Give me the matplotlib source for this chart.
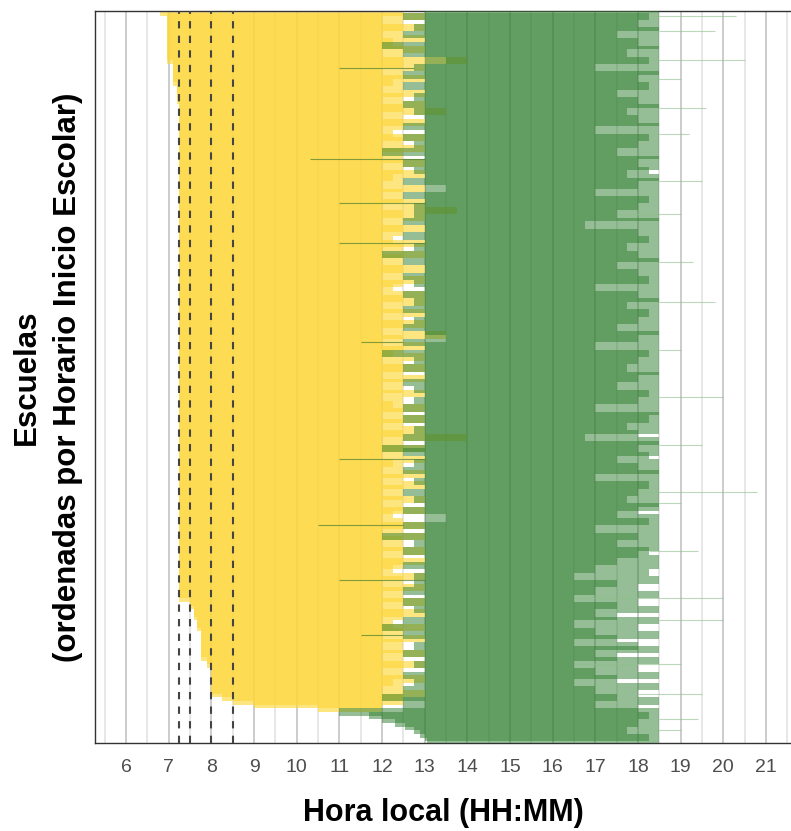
import matplotlib.pyplot as plt
import numpy as np

plt.rcParams.update({
    'font.family': ['Liberation Sans', 'DejaVu Sans'],
    'figure.dpi': 100,
})

# ==========================================
# DATOS (filas de arriba a abajo)
# ==========================================
# inicio de la jornada de mañana (codificado por tramos)
inicio_valores = [6.8, 6.95, 7.1, 7.2, 7.25, 7.5, 7.6, 7.67, 7.75, 7.9, 8.0, 8.25, 8.5, 9.0, 10.5]
inicio_conteos = [1, 13, 6, 5, 136, 2, 3, 3, 8, 2, 8, 1, 1, 1, 1]

fin_manana = [
    12.5, 13.0, 12.0, 12.5, 13.0, 12.5, 12.0, 13.0, 12.25, 12.5,
    13.0, 12.0, 12.5, 14.0, 12.5, 13.0, 12.0, 12.5, 13.0, 12.25,
    12.5, 12.0, 13.0, 12.5, 12.0, 13.0, 12.5, 13.5, 12.0, 12.5,
    13.0, 12.5, 12.0, 12.25, 13.0, 12.5, 12.0, 13.0, 12.5, 12.0,
    12.5, 13.0, 12.0, 12.5, 13.0, 12.25, 12.5, 12.0, 13.0, 12.5,
    12.0, 12.5, 13.0, 12.0, 13.75, 12.5, 13.0, 12.0, 12.5, 13.0,
    12.5, 12.0, 12.25, 13.0, 12.5, 12.0, 13.0, 12.5, 12.0, 12.5,
    13.0, 12.5, 12.0, 13.0, 12.5, 12.25, 12.0, 13.0, 12.5, 13.0,
    12.0, 12.5, 13.0, 12.0, 12.5, 13.0, 12.5, 12.0, 13.5, 12.5,
    12.0, 13.0, 12.5, 12.25, 13.0, 12.0, 12.5, 13.0, 12.5, 12.0,
    13.0, 12.5, 12.0, 12.5, 13.0, 12.0, 12.5, 12.25, 13.0, 12.5,
    12.0, 13.0, 12.5, 12.0, 13.0, 12.5, 14.0, 12.0, 12.5, 13.0,
    12.5, 12.0, 13.0, 12.25, 12.5, 12.0, 13.0, 12.5, 12.0, 13.0,
    12.5, 12.0, 12.5, 13.0, 12.0, 12.5, 13.0, 12.25, 12.0, 12.5,
    13.0, 12.5, 12.0, 13.0, 12.5, 12.0, 12.5, 13.0, 12.0, 12.5,
    13.0, 12.5, 12.25, 12.0, 13.0, 12.5, 12.0, 13.0, 12.5, 12.0,
    12.5, 13.0, 12.0, 12.5, 13.0, 12.5, 12.0, 12.25, 13.0, 12.5,
    12.0, 13.0, 12.5, 12.0, 12.5, 13.0, 12.0, 12.5, 13.0, 12.5,
    12.0, 12.5, 13.0, 12.25, 12.5, 12.0, 13.0, 12.5, 12.5, 12.0,
    12.0,
]

inicio_tarde = [
    13.0, 12.5, 13.0, 13.0, 12.75, 13.0, 12.5, 13.0, 13.0, 12.0,
    13.0, 12.5, 13.0, 13.5, 13.0, 12.75, 13.0, 12.5, 13.0, 13.0,
    12.5, 13.0, 13.0, 12.75, 13.0, 12.5, 13.0, 12.75, 13.0, 13.0,
    13.0, 12.5, 13.0, 13.0, 12.5, 13.0, 12.75, 13.0, 12.0, 13.0,
    13.0, 12.5, 13.0, 12.75, 13.0, 13.0, 12.5, 13.0, 13.5, 13.0,
    12.5, 13.0, 13.0, 12.75, 13.0, 12.75, 13.0, 12.5, 13.0, 13.0,
    13.0, 12.5, 13.0, 13.0, 12.75, 13.0, 12.0, 13.0, 12.5, 13.0,
    13.0, 13.0, 12.5, 13.0, 12.75, 13.0, 13.0, 12.5, 13.0, 12.75,
    13.0, 12.5, 13.0, 13.0, 12.75, 13.0, 12.5, 13.0, 13.0, 13.5,
    12.5, 13.0, 13.0, 12.0, 13.0, 12.75, 13.0, 12.5, 13.0, 13.0,
    13.0, 12.5, 13.0, 12.75, 13.0, 13.0, 12.75, 13.0, 12.5, 13.0,
    13.0, 12.5, 13.0, 13.0, 12.75, 13.0, 12.5, 13.0, 13.0, 12.0,
    12.5, 13.0, 13.0, 12.75, 13.0, 12.5, 13.0, 13.0, 12.75, 13.0,
    13.0, 12.5, 13.0, 12.75, 13.0, 13.0, 12.5, 13.0, 13.5, 13.0,
    12.5, 13.0, 13.0, 12.0, 13.0, 12.75, 13.0, 12.5, 13.0, 13.0,
    13.0, 12.5, 13.0, 13.0, 12.75, 13.0, 12.75, 13.0, 12.5, 13.0,
    13.0, 12.5, 13.0, 12.75, 13.0, 13.0, 12.5, 13.0, 12.0, 13.0,
    12.5, 13.0, 13.0, 12.75, 13.0, 12.5, 13.0, 13.0, 12.75, 13.0,
    13.0, 12.5, 13.0, 12.75, 13.0, 12.5, 13.0, 12.0, 12.5, 13.0,
    12.5, 11.0, 11.7, 12.0, 12.3, 12.55, 12.75, 12.9, 13.0, 13.05,
]

fin_tarde = [
    18.5, 18.25, 18.5, 18.0, 18.5, 18.5, 17.5, 18.5, 18.0, 18.5,
    18.5, 17.75, 18.5, 18.25, 18.5, 17.0, 18.5, 18.5, 18.0, 18.5,
    18.25, 18.5, 17.5, 18.5, 18.0, 18.5, 18.5, 17.75, 18.5, 18.0,
    18.5, 18.5, 17.0, 18.5, 18.25, 18.5, 18.0, 18.5, 17.5, 18.5,
    18.5, 18.0, 18.5, 18.25, 17.75, 18.5, 18.5, 18.0, 18.5, 17.0,
    18.5, 18.25, 18.5, 18.0, 18.5, 17.5, 18.5, 18.5, 16.75, 18.5,
    18.0, 18.5, 18.25, 18.5, 17.75, 18.5, 18.0, 18.5, 18.5, 17.5,
    18.5, 18.0, 18.5, 18.25, 18.5, 17.0, 18.5, 18.0, 18.5, 18.5,
    17.75, 18.5, 18.25, 18.5, 18.0, 18.5, 17.5, 18.5, 18.5, 18.0,
    18.5, 17.0, 18.5, 18.25, 18.5, 18.0, 18.5, 17.75, 18.5, 18.5,
    18.0, 18.5, 17.5, 18.5, 18.25, 18.5, 18.0, 18.5, 17.0, 18.5,
    18.5, 18.25, 18.5, 17.75, 18.5, 18.0, 16.75, 18.5, 18.5, 18.0,
    18.5, 18.25, 17.5, 18.5, 18.0, 18.5, 18.5, 17.0, 18.5, 18.25,
    18.5, 18.0, 18.5, 17.75, 18.5, 18.5, 18.0, 17.5, 18.5, 18.25,
    18.5, 17.0, 18.5, 18.0, 18.5, 17.5, 18.5, 18.25, 18.0, 18.5,
    17.5, 18.5, 17.0, 18.25, 16.5, 18.5, 17.5, 18.0, 17.0, 18.5,
    16.5, 18.0, 17.5, 18.5, 17.0, 17.5, 18.5, 16.5, 18.0, 17.0,
    18.5, 17.5, 16.5, 18.0, 18.5, 17.0, 17.5, 18.5, 16.5, 18.0,
    17.0, 18.5, 17.5, 16.5, 18.5, 17.0, 18.0, 17.5, 18.5, 17.0,
    18.0, 18.5, 18.25, 18.5, 18.0, 18.5, 17.75, 18.5, 18.25, 18.5,
]

# tardes que se alargan (líneas finas) y tardes que empiezan antes
filas_extension = [1, 5, 13, 18, 26, 33, 46, 55, 68, 79, 92, 105, 118, 131, 134, 147, 160, 166, 178, 186, 193, 196]
fin_extension = [20.3, 19.8, 20.5, 19.0, 19.6, 19.2, 19.5, 19.0, 19.3, 19.8, 19.0, 20.0,
                 19.5, 20.8, 19.0, 19.4, 20.0, 20.0, 19.0, 19.5, 19.4, 19.0]
filas_temprana = [15, 40, 52, 63, 90, 122, 140, 155, 170]
inicio_temprana = [11.0, 10.3, 11.0, 11.0, 11.5, 11.0, 10.5, 11.0, 11.5]

lineas_ref = [7.25, 7.5, 8.0, 8.5]
horas = list(range(6, 22))

# ==========================================
# GRÁFICO
# ==========================================
inicio_manana = np.repeat(inicio_valores, inicio_conteos)
fin_manana = np.array(fin_manana)
inicio_tarde = np.array(inicio_tarde)
fin_tarde = np.array(fin_tarde)
filas_m = np.arange(len(inicio_manana))
filas_t = np.arange(len(inicio_tarde))

fig = plt.figure(figsize=(7.91, 8.31))
ax = fig.add_axes([95 / 791, 88 / 831, 1 - 95 / 791, 732 / 831])

amarillo = '#FDD73C'
verde = '#2F7F2F'

# cada fila se solapa con la siguiente -> se mezclan como en el original
ax.barh(filas_m, fin_manana - inicio_manana, left=inicio_manana, height=2.0,
        color=amarillo, alpha=0.65, linewidth=0, zorder=2)
ax.barh(filas_t, fin_tarde - inicio_tarde, left=inicio_tarde, height=2.0,
        color=verde, alpha=0.5, linewidth=0, zorder=3)

# extensiones finas
ax.hlines(filas_extension, fin_tarde[filas_extension], fin_extension,
          color='#8fbf8f', linewidth=0.8, alpha=0.6, zorder=3)
ax.hlines(filas_temprana, inicio_temprana, inicio_tarde[filas_temprana],
          color='#4f7f2f', linewidth=0.8, alpha=0.7, zorder=3)

for x in lineas_ref:
    ax.axvline(x, color='#444444', linewidth=1.5, linestyle=(0, (3.5, 3.5)), zorder=4)

ax.set_xlim(5.27, 21.59)
ax.set_ylim(len(inicio_tarde) - 0.5, -0.5)
ax.set_xticks(horas)
ax.set_xticks(np.arange(5.5, 22, 1.0), minor=True)
ax.set_yticks([])
ax.set_axisbelow(True)
ax.grid(True, axis='x', which='major', color='#c4c4c4', linewidth=1.2)
ax.grid(True, axis='x', which='minor', color='#e3e3e3', linewidth=1.2)
ax.tick_params(axis='x', which='both', length=0, pad=11.5, labelsize=14, labelcolor='#4d4d4d')

for lado in ['left', 'top', 'bottom']:
    ax.spines[lado].set_color('#333333')
    ax.spines[lado].set_linewidth(1.0)
ax.spines['right'].set_visible(False)

ax.set_xlabel('Hora local (HH:MM)', fontsize=22, fontweight='bold', labelpad=16)
ax.set_ylabel('Escuelas\n(ordenadas por Horario Inicio Escolar)', fontsize=22.5,
              fontweight='bold', labelpad=8.5, linespacing=1.5)

plt.savefig('out.png', dpi=100)
plt.close()
